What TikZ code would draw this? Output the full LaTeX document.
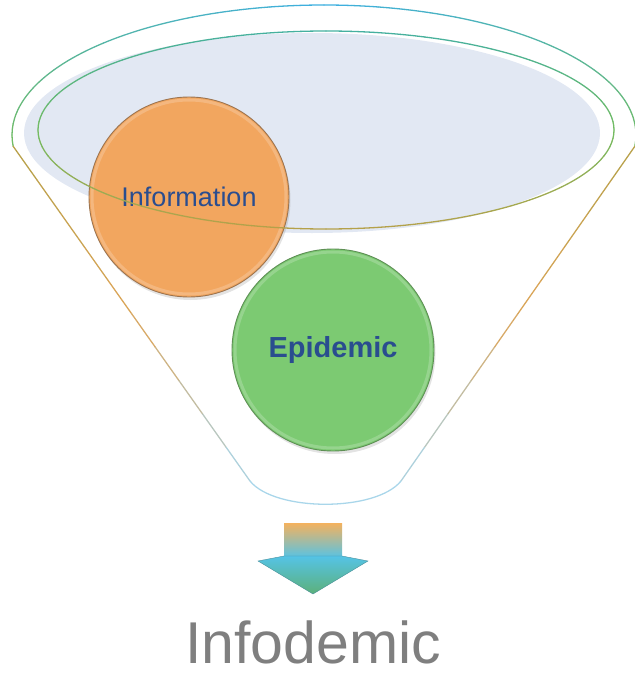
\documentclass[tikz,border=0pt]{standalone}
\usepackage{fontspec}
\setmainfont{Liberation Sans}
\usetikzlibrary{calc,shadows}

\definecolor{rimblue}{HTML}{3DAFE0}
\definecolor{rimteal}{HTML}{45B0A0}
\definecolor{rimgreen}{HTML}{72BC62}
\definecolor{rimolive}{HTML}{B5A14A}
\definecolor{rimtan}{HTML}{DDA55A}
\definecolor{rimsky}{HTML}{A9D6EA}
\definecolor{mouthfill}{HTML}{E2E8F3}
\definecolor{infofill}{HTML}{F2A65F}
\definecolor{infoline}{HTML}{9C7450}
\definecolor{epifill}{HTML}{7CCA72}
\definecolor{epiline}{HTML}{5E8F55}
\definecolor{labelblue}{HTML}{2A4D8F}
\definecolor{textgray}{HTML}{7F7F7F}
\definecolor{arrowtop}{HTML}{F4B25E}
\definecolor{arrowmid}{HTML}{55C3E6}
\definecolor{arrowtip}{HTML}{5CB07A}
\definecolor{arrowedge}{HTML}{4A8F9C}

\begin{document}
\begin{tikzpicture}[x=1pt,y=-1pt,
	ball/.style={circle,inner sep=0pt,minimum size=200pt,line width=0.9pt,
		drop shadow={opacity=0.22,shadow xshift=1.5pt,shadow yshift=-3pt}},
	rim/.style={line width=1.3pt,line cap=round}]
	\useasboundingbox (0,0) rectangle (634,674);
	\coordinate (rimc) at (324,135); %centre of the outer rim
	\coordinate (ringc) at (326,130); %centre of the inner ring
	\coordinate (ltop) at ($(rimc)+(175:312 and 130)$);
	\coordinate (rtop) at ($(rimc)+(5:312 and 130)$);
	\coordinate (lbot) at (250,481);
	\coordinate (rbot) at (401,481);
	% mouth of the funnel
	\fill[mouthfill] (312,133) ellipse[x radius=288,y radius=100];
	% upper ball
	\node[ball,draw=infoline,fill=infofill,text=labelblue,
		font=\fontsize{27}{27}\selectfont] (info) at (189,197) {Information};
	\draw[white,opacity=0.2,line width=3pt] (info.center) circle[radius=97];
	% inner ring
	\foreach \a in {0,5,...,355}{
		\pgfmathsetmacro\s{sin(\a+2.5)}
		\pgfmathtruncatemacro\pt{max(0,-\s)*100}
		\pgfmathtruncatemacro\pr{100-max(0,\s)*100}
		\draw[rim,rimteal!\pt!rimgreen!\pr!rimolive] ($(ringc)+(\a:288 and 99)$)
			arc[start angle=\a,end angle=\a+5,x radius=288,y radius=99];
	}
	% outer rim
	\foreach \a in {175,180,...,360}{
		\pgfmathtruncatemacro\pg{min(100,abs(\a+2.5-270)*100/95)}
		\draw[rim,rimgreen!\pg!rimblue] ($(rimc)+(\a:312 and 130)$)
			arc[start angle=\a,end angle=\a+5,x radius=312,y radius=130];
	}
	% sides
	\foreach \i in {0,...,9}{
		\pgfmathtruncatemacro\pt{min(100,20*\i+10)}
		\pgfmathtruncatemacro\ps{max(0,20*\i-90)}
		\draw[rim,rimsky!\ps!rimtan!\pt!rimolive] ($(ltop)!{\i/10}!(lbot)$) -- ($(ltop)!{(\i+1)/10}!(lbot)$);
		\draw[rim,rimsky!\ps!rimtan!\pt!rimolive] ($(rtop)!{\i/10}!(rbot)$) -- ($(rtop)!{(\i+1)/10}!(rbot)$);
	}
	\draw[rim,rimsky] (lbot) .. controls (275,512) and (376,512) .. (rbot); %spout
	% lower ball
	\node[ball,minimum size=202pt,draw=epiline,fill=epifill,text=labelblue,
		font=\bfseries\fontsize{29}{29}\selectfont] (epi) at (333,350) {Epidemic};
	\draw[white,opacity=0.2,line width=3pt] (epi.center) circle[radius=98];
	% arrow
	\shade[top color=arrowtop,bottom color=arrowmid] (284,523) rectangle (342,558);
	\shade[draw=arrowedge,line width=0.4pt,top color=arrowmid,bottom color=arrowtip]
		(258,561) -- (284,556) -- (342,556) -- (368,561) -- (313,594) -- cycle;
	\node[font=\fontsize{59}{59}\selectfont,text=textgray,anchor=base,inner sep=0pt]
		(result) at (313,663) {Infodemic};
\end{tikzpicture}
\end{document}
